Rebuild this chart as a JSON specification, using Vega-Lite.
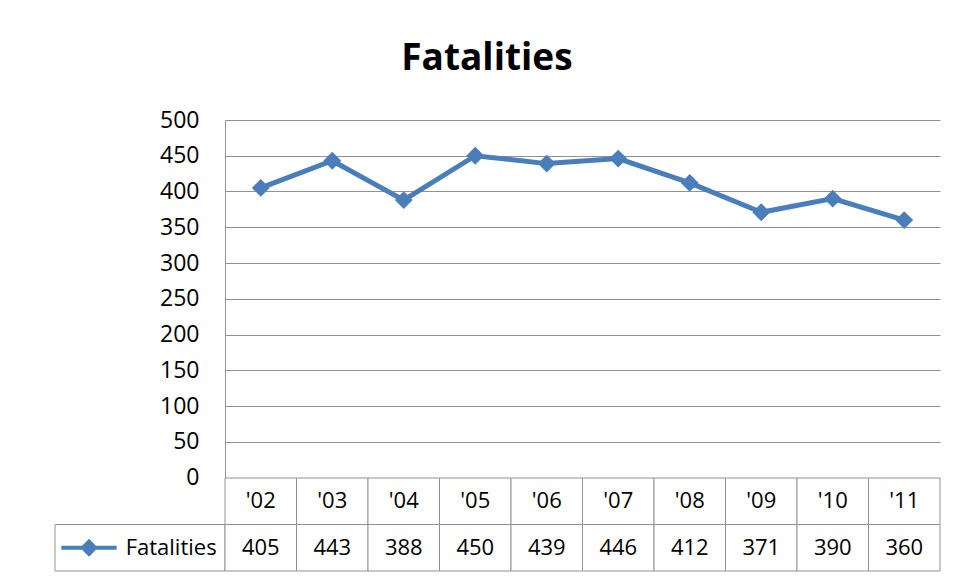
{
  "$schema": "https://vega.github.io/schema/vega-lite/v6.json",
  "background": "white",
  "padding": {"left": 53, "top": 40, "right": 5, "bottom": 5},
  "title": {"text": "Fatalities", "font": "Open Sans", "fontSize": 37, "fontWeight": "bold", "color": "#000000", "anchor": "middle", "dx": -10, "offset": 31},
  "config": {"view": {"stroke": null}, "font": "Open Sans"},
  "datasets": {
    "fatalities": [
      {"year": "'02", "fatalities": 405},
      {"year": "'03", "fatalities": 443},
      {"year": "'04", "fatalities": 388},
      {"year": "'05", "fatalities": 450},
      {"year": "'06", "fatalities": 439},
      {"year": "'07", "fatalities": 446},
      {"year": "'08", "fatalities": 412},
      {"year": "'09", "fatalities": 371},
      {"year": "'10", "fatalities": 390},
      {"year": "'11", "fatalities": 360}
    ],
    "legend": [{"series": "Fatalities"}]
  },
  "columns": 2,
  "spacing": 0,
  "bounds": "flush",
  "align": "each",
  "concat": [
    {
      "width": 170,
      "height": 357.5,
      "data": {"values": []},
      "mark": {"type": "rect"},
      "encoding": {}
    },
    {
      "width": 715,
      "height": 357.5,
      "data": {"name": "fatalities"},
      "mark": {"type": "line", "color": "#4a7ebb", "strokeWidth": 5, "point": {"shape": "diamond", "size": 320, "filled": true, "color": "#4a7ebb", "opacity": 1}},
      "encoding": {
        "x": {"field": "year", "type": "ordinal", "sort": null, "axis": null},
        "y": {
          "field": "fatalities", "type": "quantitative",
          "scale": {"domain": [0, 500], "nice": false},
          "axis": {"title": null, "values": [0, 50, 100, 150, 200, 250, 300, 350, 400, 450, 500], "grid": true, "gridColor": "#929292", "gridWidth": 1, "gridOpacity": 1, "domain": true, "domainColor": "#929292", "domainWidth": 1, "ticks": false, "tickSize": 0, "labelPadding": 26, "labelFont": "Open Sans", "labelFontSize": 23, "labelColor": "#000000"}
        }
      }
    },
    {
      "width": 170,
      "height": 93,
      "data": {"name": "legend"},
      "encoding": {
        "x": {"field": "series", "type": "nominal", "scale": {"type": "band", "paddingInner": 0, "paddingOuter": 0}, "axis": null},
        "y": {"datum": "val", "type": "nominal", "scale": {"type": "band", "domain": ["cat", "val"], "paddingInner": 0, "paddingOuter": 0}, "axis": null}
      },
      "layer": [
        {"mark": {"type": "rect", "fill": "white", "stroke": "#929292", "strokeWidth": 1}},
        {"mark": {"type": "point", "shape": "M-1,0L1,0M0,-0.22L0.22,0L0,0.22L-0.22,0Z", "size": 3058, "filled": true, "fill": "#4a7ebb", "stroke": "#4a7ebb", "strokeWidth": 4, "opacity": 1}, "encoding": {"x": {"field": "series", "type": "nominal", "bandPosition": 0.2, "axis": null}}},
        {"mark": {"type": "text", "font": "Open Sans", "fontSize": 22, "color": "#000000", "align": "right"}, "encoding": {"x": {"field": "series", "type": "nominal", "bandPosition": 0.951, "axis": null}, "text": {"field": "series"}}}
      ]
    },
    {
      "width": 715,
      "height": 93,
      "data": {"name": "fatalities"},
      "encoding": {
        "x": {"field": "year", "type": "ordinal", "sort": null, "scale": {"type": "band", "paddingInner": 0, "paddingOuter": 0}, "axis": null}
      },
      "layer": [
        {"mark": {"type": "rect", "fill": "white", "stroke": "#929292", "strokeWidth": 1}, "encoding": {"y": {"datum": "cat", "type": "nominal", "scale": {"type": "band", "domain": ["cat", "val"], "paddingInner": 0, "paddingOuter": 0}, "axis": null}}},
        {"mark": {"type": "rect", "fill": "white", "stroke": "#929292", "strokeWidth": 1}, "encoding": {"y": {"datum": "val", "type": "nominal", "axis": null}}},
        {"mark": {"type": "text", "font": "Open Sans", "fontSize": 22, "color": "#000000"}, "encoding": {"y": {"datum": "cat", "type": "nominal", "axis": null}, "text": {"field": "year"}}},
        {"mark": {"type": "text", "font": "Open Sans", "fontSize": 22, "color": "#000000"}, "encoding": {"y": {"datum": "val", "type": "nominal", "axis": null}, "text": {"field": "fatalities"}}}
      ]
    }
  ]
}
